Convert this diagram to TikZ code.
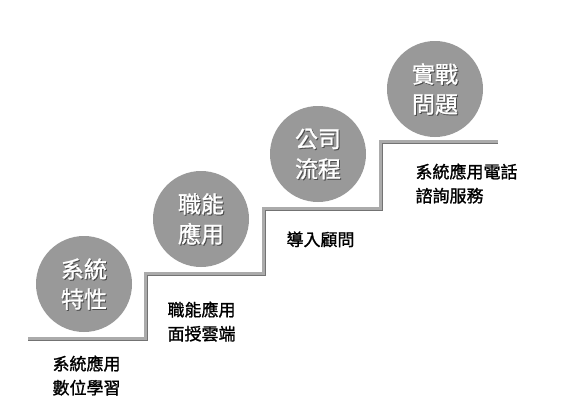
\documentclass[tikz,border=0pt]{standalone}
\usepackage{fontspec}
\newfontfamily\cjk[FakeBold=1.2]{Noto Sans CJK TC}
\usetikzlibrary{positioning}

\begin{document}
\begin{tikzpicture}[
        x=1pt, y=-1pt,
        font=\cjk,
        stair/.style={line width=2.6pt, color=black!33, line join=miter},
        stairshadow/.style={line width=2.6pt, color=black!55, line join=miter},
        ball/.style={circle, fill=black!40, minimum size=96pt, inner sep=0pt},
        balltext/.style={text=white, font=\cjk\fontsize{23}{30}\selectfont, align=center},
        ballshadow/.style={text=black!70, font=\cjk\fontsize{23}{30}\selectfont, align=center},
        label/.style={font=\cjk\fontsize{17}{24}\selectfont, align=left, anchor=north west}
    ]
    \useasboundingbox (0,0) rectangle (573,415);

    % Stufen
    \draw[stairshadow] (28,339.8) -- (146.8,339.8) -- (146.8,274.8) -- (264.8,274.8)
        -- (264.8,209.8) -- (381.8,209.8) -- (381.8,142.8) -- (498,142.8);
    \draw[stair] (28,338.5) -- (145.5,338.5) -- (145.5,273.5) -- (263.5,273.5)
        -- (263.5,208.5) -- (380.5,208.5) -- (380.5,141.5) -- (498,141.5);

    % Kreise
    \node[ball] (b1) at (84,284) {};
    \node[ball] (b2) at (201,219) {};
    \node[ball] (b3) at (318,154) {};
    \node[ball] (b4) at (435,89) {};

    % Text in den Kreisen
    \node[ballshadow] at ([shift={(1,1)}]b1) {系統\\特性};
    \node[balltext] (t1) at (b1) {系統\\特性};
    \node[ballshadow] at ([shift={(1,1)}]b2) {職能\\應用};
    \node[balltext] (t2) at (b2) {職能\\應用};
    \node[ballshadow] at ([shift={(1,1)}]b3) {公司\\流程};
    \node[balltext] (t3) at (b3) {公司\\流程};
    \node[ballshadow] at ([shift={(1,1)}]b4) {實戰\\問題};
    \node[balltext] (t4) at (b4) {實戰\\問題};

    % Beschriftungen
    \node[label] (l1) at (49,352) {系統應用\\數位學習};
    \node[label] (l2) at (164,298) {職能應用\\面授雲端};
    \node[label] (l3) at (283,228) {導入顧問};
    \node[label] (l4) at (412,160) {系統應用電話\\諮詢服務};

\end{tikzpicture}
\end{document}
